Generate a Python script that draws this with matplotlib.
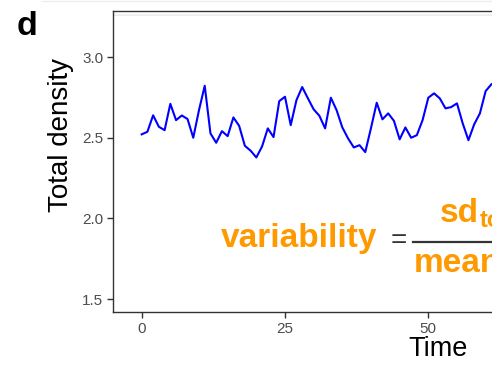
import matplotlib
matplotlib.use("Agg")
import matplotlib.pyplot as plt
from matplotlib.lines import Line2D

plt.rcParams['font.family'] = ['Liberation Sans', 'DejaVu Sans']

# Data (series continues beyond the cropped frame)
time = list(range(0, 63))
density = [2.521, 2.537, 2.639, 2.568, 2.547, 2.710, 2.609, 2.638, 2.616, 2.500,
           2.671, 2.822, 2.527, 2.469, 2.541, 2.510, 2.626, 2.574, 2.450, 2.420,
           2.378, 2.446, 2.558, 2.504, 2.727, 2.754, 2.578, 2.733, 2.814, 2.744,
           2.676, 2.636, 2.558, 2.748, 2.671, 2.564, 2.496, 2.440, 2.454, 2.411,
           2.560, 2.717, 2.614, 2.651, 2.605, 2.490, 2.564, 2.500, 2.516, 2.609,
           2.748, 2.775, 2.744, 2.682, 2.690, 2.713, 2.589, 2.485, 2.583, 2.651,
           2.789, 2.831, 2.850]
x_ticks = [0, 25, 50]
y_ticks = [1.5, 2.0, 2.5, 3.0]

W, H = 492, 369
fig = plt.figure(figsize=(W / 100, H / 100), dpi=100)

def fx(px):
    return px / W

def fy(py):
    return 1 - py / H

xlim = (-5, 105)
ylim = (1.419, 3.285)
ax_left, ax_top, ax_bottom = 113, 11, 312.3
px_per_unit = 5.733
ax_right = ax_left + (xlim[1] - xlim[0]) * px_per_unit
ax = fig.add_axes([fx(ax_left), fy(ax_bottom), fx(ax_right - ax_left), (ax_bottom - ax_top) / H])

ax.axhline(3.26, color='#ebebeb', lw=1.2, zorder=1)
ax.plot(time, density, color='#0000ff', lw=1.5, zorder=3)

ax.set_xlim(*xlim)
ax.set_ylim(*ylim)
ax.set_xticks(x_ticks)
ax.set_yticks(y_ticks)
ax.set_xticklabels([str(t) for t in x_ticks])
ax.set_yticklabels([f"{t:.1f}" for t in y_ticks])
for s in ax.spines.values():
    s.set_color('#333333')
    s.set_linewidth(1.0)
ax.tick_params(axis='both', colors='#333333', labelcolor='#4d4d4d', labelsize=11,
               length=4, width=1.0, pad=3)

ax.set_xlabel('Time', fontsize=19.5, color='black')
ax.xaxis.set_label_coords((438 - ax_left) / (ax_right - ax_left), -0.078)
ax.set_ylabel('Total density', fontsize=20, color='black')
ax.yaxis.set_label_coords((58 - ax_left) / (ax_right - ax_left) + 0.025, (ax_bottom - 135) / (ax_bottom - ax_top))

# panel letter
fig.text(fx(17), fy(35), 'd', fontsize=24.5, fontweight='bold', va='baseline', ha='left')

# faint line at top of figure
fig.add_artist(Line2D([fx(42), 1], [fy(1), fy(1)], color='#eeeeee', lw=1.0))

# formula annotation
orange = '#ff9900'
fig.text(fx(220.7), fy(246.7), 'variability', fontsize=24, fontweight='bold',
         color=orange, va='baseline', ha='left')
fig.text(fx(398.5), fy(241), '=', fontsize=20, color='#333333', va='center', ha='center')
fig.add_artist(Line2D([fx(413), 1.2], [fy(241.7), fy(241.7)], color='#333333', lw=1.6))
fig.text(fx(440), fy(221.7), 'sd', fontsize=24, fontweight='bold', color=orange,
         va='baseline', ha='left')
fig.text(fx(480), fy(227), 'total', fontsize=17, fontweight='bold', color=orange,
         va='baseline', ha='left')
fig.text(fx(413.3), fy(272.5), 'mean', fontsize=24, fontweight='bold', color=orange,
         va='baseline', ha='left')

fig.savefig('out.png', dpi=100)
